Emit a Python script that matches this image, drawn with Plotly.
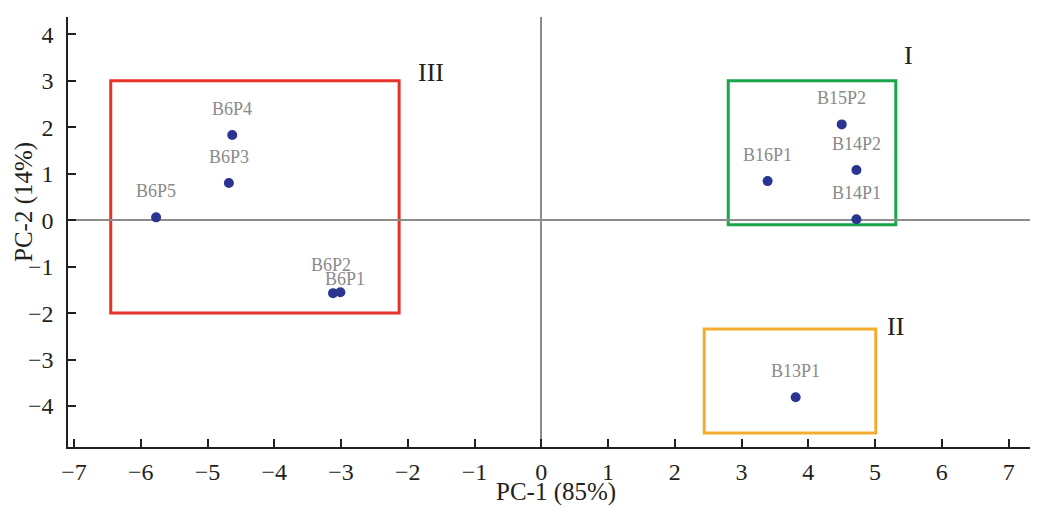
import plotly.graph_objects as go

# ---- data ----
samples = ["B6P4", "B6P3", "B6P5", "B6P2", "B6P1", "B15P2", "B14P2", "B16P1", "B14P1", "B13P1"]
pc1 = [-4.63, -4.68, -5.77, -3.12, -3.01, 4.50, 4.72, 3.39, 4.72, 3.81]
pc2 = [1.83, 0.80, 0.06, -1.57, -1.55, 2.06, 1.08, 0.84, 0.02, -3.81]

group_names = ["III", "I", "II"]
group_x0 = [-6.45, 2.80, 2.44]
group_x1 = [-2.13, 5.31, 5.01]
group_y0 = [-2.0, -0.1, -4.58]
group_y1 = [3.0, 3.0, -2.34]
group_label_x = [-1.65, 5.5, 5.3]
group_label_y = [3.18, 3.55, -2.28]

x_ticks = list(range(-7, 8))
y_ticks = list(range(-4, 5))

# ---- style ----
FONT = "Liberation Serif"
box_colors = ["#e5332a", "#1aa54b", "#f4ac2f"]
label_shift = {"B6P2": (-2, 28), "B6P1": (5, 13)}

fig = go.Figure()
fig.add_trace(go.Scatter(
    x=pc1, y=pc2, mode="markers",
    marker=dict(color="#2a3591", size=10),
    hoverinfo="text", text=samples, showlegend=False,
))

for name, x, y in zip(samples, pc1, pc2):
    dx, dy = label_shift.get(name, (0, 26))
    fig.add_annotation(x=x, y=y, text=name, showarrow=False,
                       xshift=dx, yshift=dy,
                       font=dict(family=FONT, size=18, color="#8a8a8a"))

for name, x0, x1, y0, y1, c, lx, ly in zip(group_names, group_x0, group_x1, group_y0, group_y1,
                                            box_colors, group_label_x, group_label_y):
    fig.add_shape(type="rect", x0=x0, x1=x1, y0=y0, y1=y1, xref="x", yref="y",
                  line=dict(color=c, width=3), layer="below")
    fig.add_annotation(x=lx, y=ly, text=name, showarrow=False,
                       font=dict(family=FONT, size=26, color="#231f20"))

axis_common = dict(
    showline=True, linecolor="#231f20", linewidth=1.5,
    ticks="inside", ticklen=8, tickwidth=1.5, tickcolor="#231f20",
    showgrid=False, zeroline=True, zerolinecolor="#8c8c8c", zerolinewidth=2,
    tickfont=dict(family=FONT, size=24, color="#231f20"),
    automargin=False,
)

fig.update_xaxes(range=[-7.09, 7.44], tickvals=x_ticks, ticklabelstandoff=2, **axis_common)
fig.update_yaxes(range=[-4.88, 4.37], tickvals=y_ticks, ticklabelstandoff=8, **axis_common)

fig.add_annotation(xref="paper", yref="paper", x=(556 - 68) / 970, y=-(492 - 447) / 430,
                   xanchor="center", yanchor="middle",
                   text="PC-1 (85%)", showarrow=False,
                   font=dict(family=FONT, size=25, color="#231f20"))
fig.add_annotation(xref="paper", yref="paper", x=-(68 - 24) / 970, y=(447 - 202) / 430,
                   xanchor="center", yanchor="middle",
                   text="PC-2 (14%)", showarrow=False, textangle=-90,
                   font=dict(family=FONT, size=25, color="#231f20"))

# page body has an 8px margin; compensate so the plot area lands where the reference has it
fig.update_layout(
    width=1030, height=500,
    margin=dict(l=60, r=0, t=9, b=61),
    plot_bgcolor="white", paper_bgcolor="white",
    font=dict(family=FONT),
)

fig.write_html("out.html")
